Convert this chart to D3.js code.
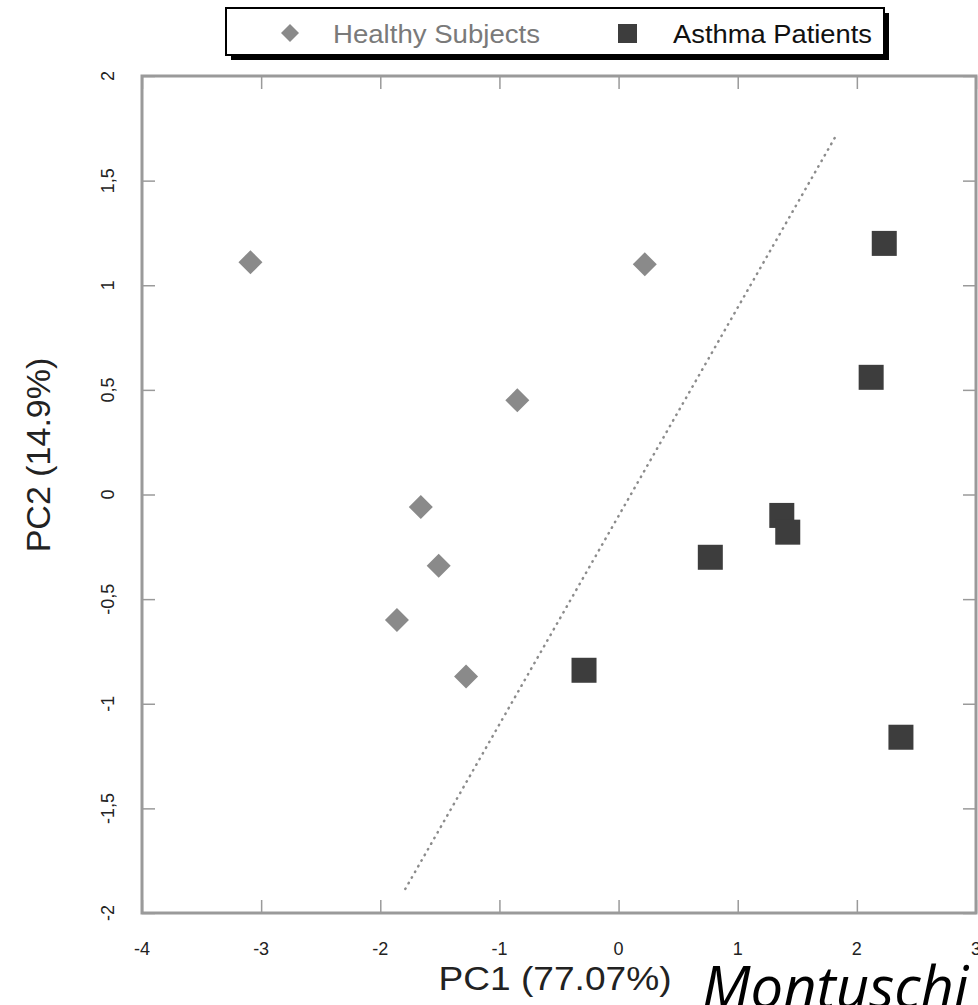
<!DOCTYPE html>
<html>
<head>
<meta charset="utf-8">
<script src="https://cdn.jsdelivr.net/npm/d3@7"></script>
<style>
body { margin: 0; background: #fff; }
svg { display: block; font-family: "Liberation Sans", Arial, sans-serif; }
</style>
</head>
<body>
<svg id="mainSvg" width="978" height="1005"></svg>
<script>
// PCA scores
var healthyPC1 = [-3.09, 0.22, -0.85, -1.66, -1.51, -1.86, -1.28];
var healthyPC2 = [1.11, 1.10, 0.45, -0.06, -0.34, -0.60, -0.87];
var asthmaPC1 = [2.23, 2.12, 1.37, 1.42, 0.77, -0.29, 2.37];
var asthmaPC2 = [1.20, 0.56, -0.10, -0.18, -0.30, -0.84, -1.16];
var separatorPC1 = [-1.79, 1.82];
var separatorPC2 = [-1.885, 1.71];
var xTicks = [-4, -3, -2, -1, 0, 1, 2, 3];
var yTicks = [-2, -1.5, -1, -0.5, 0, 0.5, 1, 1.5, 2];
var legendLabels = ["Healthy Subjects", "Asthma Patients"];

var map = {left: 142, right: 976, top: 76, bottom: 913};
var healthyCol = "#8a8a8a", asthmaCol = "#3d3d3d", frameCol = "#9a9a9a";

var mainSvg = d3.select("#mainSvg");
var x = d3.scaleLinear().domain([-4, 3]).range([map.left, map.right]);
var y = d3.scaleLinear().domain([-2, 2]).range([map.bottom, map.top]);

function fmt(v) {
	return String(v).replace(".", ",");
}
function styleTicks(g) {
	g.select(".domain").remove();
	g.selectAll("line").attr("stroke", frameCol).attr("stroke-width", 1.5);
}

// inward ticks on all four sides, labels only bottom and left
var tickLen = 13;
mainSvg.append("g").attr("transform", "translate(0," + map.bottom + ")")
	.call(d3.axisTop(x).tickValues(xTicks).tickSize(tickLen).tickFormat("")).call(styleTicks);
mainSvg.append("g").attr("transform", "translate(0," + map.top + ")")
	.call(d3.axisBottom(x).tickValues(xTicks).tickSize(tickLen).tickFormat("")).call(styleTicks);
mainSvg.append("g").attr("transform", "translate(" + map.left + ",0)")
	.call(d3.axisRight(y).tickValues(yTicks).tickSize(tickLen).tickFormat("")).call(styleTicks);
mainSvg.append("g").attr("transform", "translate(" + map.right + ",0)")
	.call(d3.axisLeft(y).tickValues(yTicks).tickSize(tickLen).tickFormat("")).call(styleTicks);

mainSvg.append("rect").attr("x", map.left).attr("y", map.top)
	.attr("width", map.right - map.left).attr("height", map.bottom - map.top)
	.attr("fill", "none").attr("stroke", frameCol).attr("stroke-width", 3);

mainSvg.selectAll(".xlab").data(xTicks).enter().append("text").attr("class", "xlab")
	.attr("x", function(d) { return x(d); }).attr("y", 955)
	.attr("text-anchor", "middle").attr("font-size", "18px").attr("fill", "#222")
	.text(function(d) { return d; });
mainSvg.selectAll(".ylab").data(yTicks).enter().append("text").attr("class", "ylab")
	.attr("transform", function(d) { return "translate(114," + y(d) + ") rotate(-90)"; })
	.attr("text-anchor", "middle").attr("font-size", "18px").attr("fill", "#222")
	.text(function(d) { return fmt(d); });

mainSvg.append("text").attr("x", 555).attr("y", 990).attr("text-anchor", "middle")
	.attr("font-size", "33px").attr("fill", "#222").attr("textLength", 233).attr("lengthAdjust", "spacingAndGlyphs")
	.text("PC1 (77.07%)");
mainSvg.append("text").attr("transform", "translate(50,455) rotate(-90)").attr("text-anchor", "middle")
	.attr("font-size", "34px").attr("fill", "#222")
	.text("PC2 (14.9%)");

// dotted separating line
mainSvg.append("line")
	.attr("x1", x(separatorPC1[0])).attr("y1", y(separatorPC2[0]))
	.attr("x2", x(separatorPC1[1])).attr("y2", y(separatorPC2[1]))
	.attr("stroke", "#8c8c8c").attr("stroke-width", 2.5)
	.attr("stroke-linecap", "round").attr("stroke-dasharray", "0.5,6");

var healthy = healthyPC1.map(function(v, i) { return {x: v, y: healthyPC2[i]}; });
var asthma = asthmaPC1.map(function(v, i) { return {x: v, y: asthmaPC2[i]}; });

mainSvg.selectAll(".healthy").data(healthy).enter().append("path").attr("class", "healthy")
	.attr("d", "M0,-12L12,0L0,12L-12,0Z")
	.attr("transform", function(d) { return "translate(" + x(d.x) + "," + y(d.y) + ")"; })
	.attr("fill", healthyCol);
mainSvg.selectAll(".asthma").data(asthma).enter().append("rect").attr("class", "asthma")
	.attr("x", function(d) { return x(d.x) - 12.5; }).attr("y", function(d) { return y(d.y) - 12.5; })
	.attr("width", 25).attr("height", 25)
	.attr("fill", asthmaCol);

// legend box with drop shadow
mainSvg.append("rect").attr("x", 231).attr("y", 13).attr("width", 658).attr("height", 47).attr("fill", "#000");
mainSvg.append("rect").attr("x", 226).attr("y", 8).attr("width", 658).attr("height", 47)
	.attr("fill", "#fff").attr("stroke", "#000").attr("stroke-width", 2);
mainSvg.append("path").attr("d", "M0,-9L9,0L0,9L-9,0Z").attr("transform", "translate(290,33)").attr("fill", healthyCol);
mainSvg.append("rect").attr("x", 618).attr("y", 24).attr("width", 19).attr("height", 19).attr("fill", asthmaCol);
mainSvg.append("text").attr("x", 333).attr("y", 43).attr("font-size", "25px").attr("fill", "#7a7a7a")
	.attr("textLength", 207).attr("lengthAdjust", "spacingAndGlyphs").text(legendLabels[0]);
mainSvg.append("text").attr("x", 673).attr("y", 43).attr("font-size", "25px").attr("fill", "#111")
	.attr("textLength", 199).attr("lengthAdjust", "spacingAndGlyphs").text(legendLabels[1]);

// citation (cut off by page edge)
mainSvg.append("text").attr("x", 702).attr("y", 1008)
	.attr("font-family", "'Open Sans', 'Noto Sans', sans-serif").attr("font-style", "italic")
	.attr("font-size", "58px").attr("fill", "#000").text("Montuschi");
</script>
</body>
</html>
